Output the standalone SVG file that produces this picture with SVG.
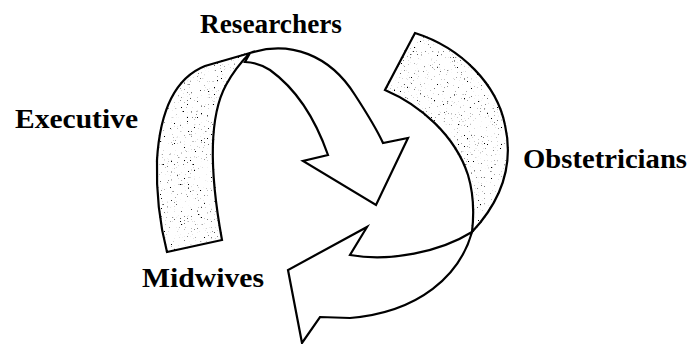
<svg xmlns="http://www.w3.org/2000/svg" width="689" height="344" viewBox="0 0 689 344">
<style>
.lbl{font-family:"Liberation Serif","Times New Roman",serif;font-weight:bold;font-size:28px;fill:#000}
.band{fill:#fff;stroke:#000;stroke-width:2.2;stroke-linejoin:miter}
.shaded{filter:url(#speck)}
</style>
<defs>
<filter id="speck" filterUnits="userSpaceOnUse" x="0" y="0" width="689" height="344">
<feTurbulence type="fractalNoise" baseFrequency="0.7" numOctaves="1" seed="7" result="noise"/>
<feColorMatrix in="noise" type="matrix" values="0 0 0 0 0  0 0 0 0 0  0 0 0 0 0  12 0 0 0 -7.9" result="dots"/>
<feComposite in="dots" in2="SourceAlpha" operator="in" result="d2"/>
<feMerge><feMergeNode in="SourceGraphic"/><feMergeNode in="d2"/></feMerge>
</filter>
</defs>
<rect width="689" height="344" fill="#fff"/>
<g id="connectors">
<path id="left-band" class="band shaded" d="M222,240 C211,180 207,120 226,85 C232,74 240,63 250,53 L205,66 C175,78 160,110 157,160 C156,195 160,225 167,252 Z"/>
<path id="top-arrow" class="band" d="M250,53 C290,40 330,55 355,95 C368,115 378,132 383,143 L408,138 L376,205 L303,161 L328,155 C315,118 295,88 270,70 C262,65 252,62 245,62 Z"/>
<path id="right-band" class="band shaded" d="M415,33 L385,90 C420,105 455,135 468,175 C474,195 474,215 472,232 C502,200 514,165 505,125 C497,85 462,48 415,33 Z"/>
<path id="bottom-arrow" class="band" d="M472,232 C460,275 420,312 350,318 L320,317 L302,343 L288,270 L367,227 L350,255 C390,262 440,252 472,232 Z"/>
</g>
<g id="researchers"><text class="lbl" x="200" y="33" textLength="142" lengthAdjust="spacingAndGlyphs">Researchers</text></g>
<g id="executive"><text class="lbl" x="15" y="128" textLength="123" lengthAdjust="spacingAndGlyphs">Executive</text></g>
<g id="obstetricians"><text class="lbl" x="523" y="168" textLength="164" lengthAdjust="spacingAndGlyphs">Obstetricians</text></g>
<g id="midwives"><text class="lbl" x="142" y="287" textLength="122" lengthAdjust="spacingAndGlyphs">Midwives</text></g>
</svg>
